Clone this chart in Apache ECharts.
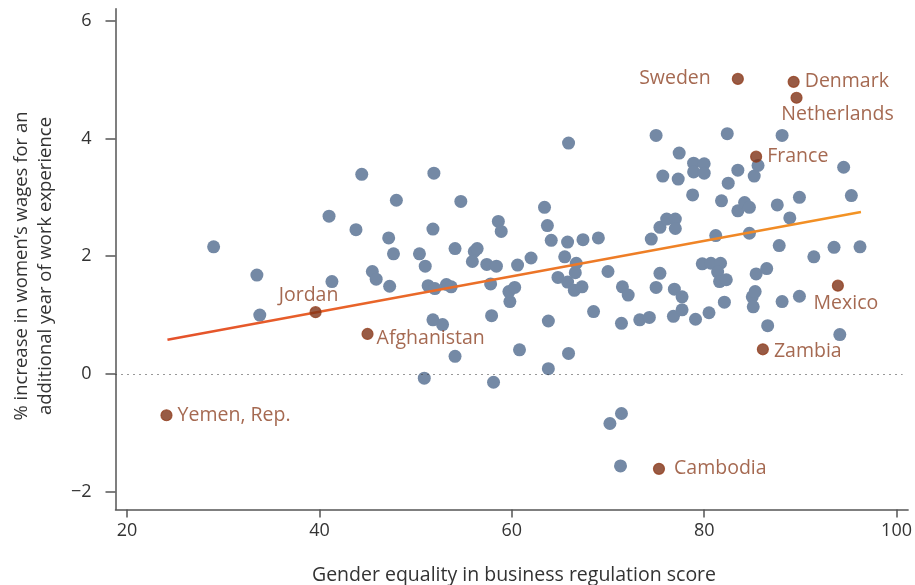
<!DOCTYPE html>
<html>
<head>
<meta charset="utf-8">
<script src="https://cdn.jsdelivr.net/npm/echarts@6/dist/echarts.min.js"></script>
<style>
  html, body { margin: 0; padding: 0; background: #fff; }
  #chart { width: 915px; height: 585px; }
</style>
</head>
<body>
<div id="chart"></div>
<script>
// Gender equality in business regulation score (x) vs. % increase in women's wages per year of experience (y)
const countryScores = [
  29.0, 33.5, 33.8, 41.0, 41.3, 43.8, 44.4, 45.5, 45.9, 47.2,
  47.3, 47.7, 48.0, 50.4, 51.0, 51.3, 51.9, 51.8, 50.9, 51.8,
  52.8, 54.1, 52.0, 53.2, 53.7, 54.7, 54.1, 56.1, 56.4, 55.9,
  57.4, 58.4, 57.8, 58.6, 58.9, 57.9, 58.1, 59.8, 59.7, 60.3,
  60.6, 60.8, 62.0, 63.4, 63.7, 64.1, 63.8, 63.8, 64.8, 65.5,
  65.8, 65.9, 65.8, 65.9, 66.5, 66.6, 66.7, 67.3, 67.4, 68.5,
  69.0, 70.0, 70.2, 71.4, 71.3, 71.4, 71.5, 72.1, 73.3, 74.3,
  74.5, 75.0, 75.0, 75.4, 75.4, 75.7, 76.1, 77.0, 77.0, 77.3,
  77.4, 76.8, 76.9, 77.7, 77.7, 78.8, 78.9, 80.0, 78.9, 80.0,
  79.1, 79.8, 80.7, 81.7, 81.4, 81.6, 82.3, 80.5, 81.2, 81.8,
  82.1, 82.4, 82.5, 83.5, 83.5, 84.2, 84.7, 84.7, 85.0, 85.1,
  85.3, 85.2, 85.6, 85.4, 86.5, 86.6, 87.6, 87.8, 88.1, 88.1,
  88.9, 89.9, 89.9, 91.4, 93.5, 94.1, 94.5, 95.3, 96.2
];
const wageGains = [
  2.16, 1.68, 1.00, 2.68, 1.57, 2.45, 3.39, 1.74, 1.61, 2.31,
  1.49, 2.04, 2.95, 2.04, 1.83, 1.50, 3.41, 2.46, -0.07, 0.92,
  0.84, 0.30, 1.45, 1.52, 1.48, 2.93, 2.13, 2.08, 2.13, 1.91,
  1.86, 1.83, 1.53, 2.59, 2.42, 0.99, -0.14, 1.23, 1.40, 1.47,
  1.85, 0.41, 1.97, 2.83, 2.52, 2.27, 0.90, 0.09, 1.64, 1.99,
  2.24, 3.92, 1.56, 0.35, 1.42, 1.72, 1.88, 1.48, 2.28, 1.06,
  2.31, 1.74, -0.84, -0.67, -1.56, 0.86, 1.48, 1.34, 0.92, 0.96,
  2.29, 4.05, 1.47, 1.71, 2.49, 3.36, 2.63, 2.63, 2.47, 3.31,
  3.75, 0.98, 1.44, 1.09, 1.31, 3.04, 3.58, 3.57, 3.43, 3.41,
  0.93, 1.87, 1.88, 1.88, 1.73, 1.57, 1.60, 1.04, 2.35, 2.94,
  1.22, 4.08, 3.24, 3.46, 2.77, 2.91, 2.83, 2.39, 1.31, 1.14,
  1.40, 3.36, 3.54, 1.70, 1.79, 0.82, 2.87, 2.18, 4.05, 1.23,
  2.65, 3.00, 1.32, 1.99, 2.15, 0.67, 3.51, 3.03, 2.16
];

// Named economies
const namedCountries = ['Yemen, Rep.', 'Jordan', 'Afghanistan', 'Cambodia', 'Zambia', 'Mexico', 'France', 'Netherlands', 'Denmark', 'Sweden'];
const namedScores    = [24.1, 39.6, 45.0, 75.3, 86.1, 93.9, 85.4, 89.6, 89.3, 83.5];
const namedGains     = [-0.70, 1.05, 0.68, -1.61, 0.42, 1.50, 3.69, 4.69, 4.96, 5.01];

// Fitted trend line endpoints
const trendScores = [24.2, 96.3];
const trendGains  = [0.58, 2.75];

// Axis ticks
const xTicks = [20, 40, 60, 80, 100];
const yTicks = [-2, 0, 2, 4, 6];

const labelFont = 'Open Sans';
const labelColor = '#8E4426';

// Label placement for each named economy
const labelPlacement = {
  'Yemen, Rep.': { position: 'right', distance: 5 },
  'Jordan':      { position: 'top', distance: 1, offset: [-7, 0] },
  'Afghanistan': { position: 'right', distance: 3, offset: [0, 4] },
  'Cambodia':    { position: 'right', distance: 9 },
  'Zambia':      { position: 'right', distance: 5, offset: [0, 2] },
  'Mexico':      { position: 'bottom', distance: 2, offset: [8, 0] },
  'France':      { position: 'right', distance: 5 },
  'Netherlands': { position: 'bottom', distance: 1, offset: [41, 0] },
  'Denmark':     { position: 'right', distance: 5 },
  'Sweden':      { position: 'left', distance: 21 }
};

const chart = echarts.init(document.getElementById('chart'), null, { renderer: 'canvas' });

const axisColor = '#555';

chart.setOption({
  animation: false,
  backgroundColor: '#fff',
  textStyle: { fontFamily: labelFont },
  grid: { left: 115.5, right: 4.5, top: 8.8, bottom: 75.5, containLabel: false },
  xAxis: {
    type: 'value',
    min: 18.8,
    max: 101.2,
    splitLine: { show: false },
    axisLine: { show: true, onZero: false, lineStyle: { color: axisColor, width: 1.5 } },
    axisTick: { show: true, length: 8, customValues: xTicks, lineStyle: { color: axisColor, width: 1.5 } },
    axisLabel: { customValues: xTicks, margin: 12, fontSize: 18, color: '#333', fontFamily: labelFont }
  },
  yAxis: {
    type: 'value',
    min: -2.3,
    max: 6.2,
    splitLine: { show: false },
    axisLine: { show: true, onZero: false, lineStyle: { color: axisColor, width: 1.5 } },
    axisTick: { show: true, length: 10, customValues: yTicks, lineStyle: { color: axisColor, width: 1.5 } },
    axisLabel: {
      customValues: yTicks, margin: 24, fontSize: 18, color: '#333', fontFamily: labelFont,
      formatter: v => (v < 0 ? '\u2212' + Math.abs(v) : String(v))
    }
  },
  graphic: [
    {
      type: 'text', x: 514, y: 575,
      style: {
        text: 'Gender equality in business regulation score', fontSize: 19.5, fill: '#333', fontFamily: labelFont,
        align: 'center', verticalAlign: 'middle'
      }
    },
    {
      type: 'text', x: 34, y: 266, rotation: Math.PI / 2,
      style: {
        text: '% increase in women\u2019s wages for an\nadditional year of work experience',
        fontSize: 18.5, lineHeight: 24, fill: '#333', fontFamily: labelFont,
        align: 'center', verticalAlign: 'middle'
      }
    }
  ],
  series: [
    {
      name: 'zero',
      type: 'line',
      data: [],
      silent: true,
      markLine: {
        symbol: 'none',
        silent: true,
        label: { show: false },
        lineStyle: { color: '#333', type: [1, 5], width: 1.2 },
        data: [[{ coord: [18.8, 0] }, { coord: [100.6, 0] }]]
      }
    },
    {
      name: 'countries',
      type: 'scatter',
      symbolSize: 13,
      itemStyle: { color: '#7489A5', opacity: 1 },
      data: countryScores.map((x, i) => [x, wageGains[i]]),
      z: 2
    },
    {
      name: 'trend',
      type: 'line',
      symbol: 'none',
      lineStyle: {
        width: 2.5,
        color: new echarts.graphic.LinearGradient(0, 0, 1, 0, [
          { offset: 0, color: '#E4512B' },
          { offset: 1, color: '#F39424' }
        ])
      },
      data: trendScores.map((x, i) => [x, trendGains[i]]),
      z: 3
    },
    {
      name: 'named',
      type: 'scatter',
      symbolSize: 11,
      itemStyle: { color: '#7E3216', borderColor: '#94401F', borderWidth: 1.2 },
      label: { show: true, formatter: p => p.name, fontSize: 19.5, color: labelColor, fontFamily: labelFont },
      data: namedCountries.map((n, i) => ({
        name: n,
        value: [namedScores[i], namedGains[i]],
        label: labelPlacement[n]
      })),
      z: 4
    }
  ]
});
</script>
</body>
</html>
